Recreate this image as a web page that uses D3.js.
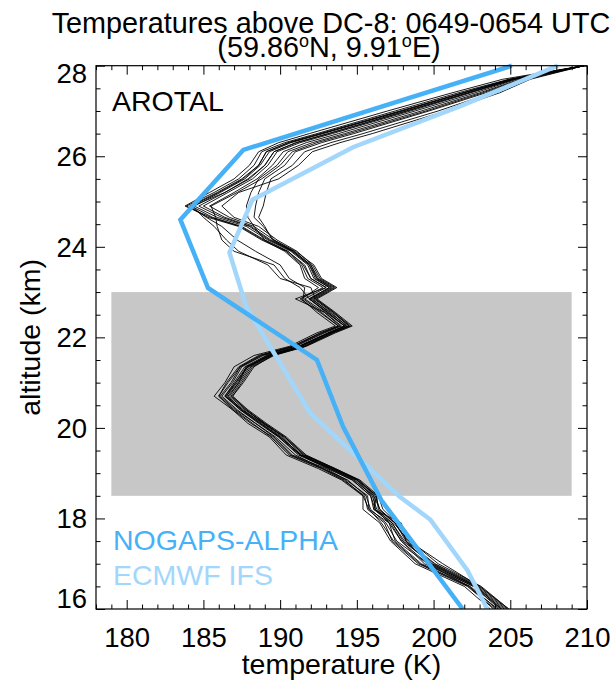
<!DOCTYPE html>
<html>
<head>
<meta charset="utf-8">
<script src="https://cdn.jsdelivr.net/npm/d3@7"></script>
<style>
  html, body { margin: 0; padding: 0; background: #fff; }
  svg { display: block; }
  text { font-family: "Liberation Sans", Arial, sans-serif; fill: #000; }
</style>
</head>
<body>
<svg id="chart" width="614" height="681"></svg>
<script>
// ---------------- DATA ----------------
const titleLine1 = "Temperatures above DC-8: 0649-0654 UTC";
const xLabel = "temperature (K)";
const yLabel = "altitude (km)";
const xTicksMajor = [180, 185, 190, 195, 200, 205, 210];
const yTicksMajor = [16, 18, 20, 22, 24, 26, 28];
const xDomain = [178, 210];
const yDomain = [16, 28];

// Shaded altitude band (K range and km range)
const bandTemp = [179, 209];
const bandAlt = [18.5, 23];

// AROTAL lidar profiles: temperatures at the common altitude levels
const arotalAlt = [16.0,16.5,17.0,17.5,17.9,18.2,18.5,18.85,19.1,19.4,19.8,20.1,20.4,20.7,21.0,21.35,21.6,21.8,22.1,22.25,22.55,22.85,23.1,23.3,23.6,23.9,24.15,24.45,24.65,24.9,25.2,25.5,25.8,26.1,26.3,26.5,27.0,27.4,27.7,28.0];
const arotalTemps = [
  [203.7,202.0,198.8,197.2,196.5,195.4,195.4,194.0,192.5,190.4,189.3,187.9,186.9,185.7,186.4,187.0,188.3,190.6,192.4,193.6,192.4,191.4,192.5,191.6,191.3,190.3,188.9,187.4,185.5,183.8,185.4,187.0,188.0,188.6,189.9,191.9,197.0,201.2,204.5,209.8],
  [204.0,202.2,199.0,197.3,196.8,195.7,195.5,194.1,192.7,190.6,189.4,188.2,187.0,186.0,186.5,187.3,188.6,190.8,192.6,193.8,192.6,191.3,192.8,191.8,191.4,190.4,188.8,187.3,185.3,183.9,185.7,187.3,188.3,188.8,190.3,192.4,197.5,201.6,204.9,209.8],
  [204.1,202.4,199.2,197.5,197.1,195.8,195.7,194.3,193.0,190.8,189.6,188.4,187.1,186.1,186.8,187.4,188.8,190.9,192.8,193.9,192.9,191.6,193.0,192.0,191.5,190.5,189.0,187.5,185.6,184.2,186.0,187.6,188.6,189.1,190.5,192.6,197.8,201.9,205.0,209.8],
  [204.3,202.6,199.6,197.9,197.2,196.1,195.9,194.7,193.2,191.2,189.9,188.6,187.4,186.4,187.0,187.7,189.1,191.2,193.1,194.2,193.1,191.9,193.2,192.2,191.8,190.7,189.2,187.8,185.9,184.4,186.1,187.7,188.7,189.3,190.7,192.8,198.0,202.0,205.1,209.8],
  [204.5,202.7,199.8,198.1,197.3,196.3,196.0,194.9,193.3,191.4,190.0,188.8,187.6,186.5,187.1,187.9,189.3,191.3,193.2,194.3,193.3,192.0,193.3,192.4,191.9,190.8,189.3,188.0,186.2,184.7,186.4,188.0,189.0,189.6,191.0,193.1,198.2,202.2,205.2,209.8],
  [204.7,202.9,200.0,198.3,197.5,196.5,196.2,195.1,193.5,191.5,190.2,189.0,187.7,186.7,187.3,188.0,189.4,191.5,193.4,194.5,193.4,192.2,193.5,192.5,192.0,190.9,189.4,188.1,186.4,185.0,186.6,188.2,189.2,189.8,191.3,193.4,198.5,202.4,205.3,209.8],
  [204.9,203.1,200.3,198.5,197.6,196.7,196.4,195.2,193.6,191.7,190.4,189.1,187.9,186.9,187.5,188.2,189.6,191.7,193.6,194.7,193.6,192.4,193.7,192.7,192.2,191.0,189.6,188.3,186.7,185.4,187.0,188.5,189.5,190.2,191.7,193.8,198.8,202.7,205.4,209.8],
  [204.2,202.3,199.6,197.6,196.9,195.9,195.6,194.4,192.8,191.0,189.7,188.4,187.2,186.2,186.9,187.5,188.9,191.0,192.9,194.0,192.9,191.0,193.0,192.0,191.6,190.5,189.0,188.3,187.9,187.8,188.1,188.6,189.8,190.5,192.1,194.2,199.2,203.0,205.6,209.8],
  [204.6,202.8,199.7,198.2,197.9,196.1,196.3,195.0,193.4,191.3,190.1,188.9,187.5,186.6,187.3,187.8,189.4,191.4,193.3,194.4,193.2,192.1,193.4,192.4,192.0,190.9,189.6,188.9,188.3,188.4,188.6,189.0,190.3,191.0,192.7,194.8,199.7,203.4,205.8,209.8],
  [204.4,202.6,199.4,197.9,197.1,196.2,195.9,194.7,193.1,191.3,189.9,188.7,187.4,186.5,187.2,187.9,189.2,191.2,193.2,194.2,193.0,191.9,193.2,192.3,191.9,190.8,189.5,189.0,188.6,188.9,189.1,189.4,190.8,191.6,193.3,195.4,200.3,203.8,206.1,209.8],
  [204.8,203.0,200.1,198.2,197.5,196.4,196.3,195.1,193.6,191.6,190.3,189.0,187.8,186.8,187.4,188.1,189.5,191.6,193.5,194.6,193.5,192.3,193.6,192.6,192.1,191.1,189.8,188.6,187.0,186.2,187.3,189.9,191.2,192.1,193.9,196.0,200.8,204.3,206.3,209.8],
  [204.9,203.0,200.6,198.4,197.4,196.5,196.1,195.0,193.5,191.6,190.3,188.9,187.8,186.9,187.6,188.3,189.5,191.6,193.4,194.5,193.5,192.3,192.0,190.0,189.2,187.3,186.5,185.7,185.0,184.3,186.4,187.9,189.0,189.6,191.1,193.2,198.3,202.3,205.2,209.8],
  [203.9,202.3,199.1,197.4,196.6,195.8,195.4,194.2,192.8,190.7,189.5,188.1,186.9,186.0,186.6,187.4,188.7,190.8,192.7,193.8,192.7,191.5,191.6,190.6,190.0,188.4,187.2,186.2,185.2,184.1,185.9,187.5,188.6,189.1,190.6,192.7,197.9,201.9,205.0,209.8],
  [204.4,202.8,199.9,198.0,197.3,196.2,196.1,194.8,193.3,191.4,190.0,188.7,187.5,186.4,187.1,187.8,189.2,191.3,193.2,194.2,193.1,191.9,191.3,190.3,189.6,187.0,186.2,185.9,185.8,185.5,187.2,188.8,190.0,190.8,192.4,194.5,199.5,203.2,205.7,209.8]
];

// Model profiles
const nogapsTemp = [201.9, 196.6, 194.1, 192.4, 185.3, 183.5, 187.6, 205.1];
const nogapsAlt  = [16.0, 18.4, 20.03, 21.5, 23.09, 24.6, 26.14, 28.0];
const ecmwfTemp  = [203.5, 202.2, 199.8, 197.8, 191.95, 187.8, 186.7, 188.2, 194.75, 201.7, 208.1];
const ecmwfAlt   = [16.0, 16.86, 17.97, 18.48, 20.33, 22.67, 23.87, 25.04, 26.2, 27.1, 28.0];

const legendNames = ["AROTAL", "NOGAPS-ALPHA", "ECMWF IFS"];

// ---------------- DRAW ----------------
const svg = d3.select("#chart");
const L = 96, R = 587, T = 65.7, B = 609;
const x = d3.scaleLinear().domain(xDomain).range([L, R]);
const y = d3.scaleLinear().domain(yDomain).range([B, T]);

const cNogaps = "#46b1f6";
const cEcmwf = "#a2d6fb";

// Title
svg.append("text").attr("x", 331).attr("y", 33).attr("text-anchor", "middle")
  .style("font-size", "28.8px").text(titleLine1);
const t2 = svg.append("text").attr("x", 329).attr("y", 57).attr("text-anchor", "middle")
  .style("font-size", "28.8px");
t2.append("tspan").text("(59.86");
t2.append("tspan").attr("dy", -10).style("font-size", "18px").text("o");
t2.append("tspan").attr("dy", 10).text("N, 9.91");
t2.append("tspan").attr("dy", -10).style("font-size", "18px").text("o");
t2.append("tspan").attr("dy", 10).text("E)");

// Gray band
svg.append("rect")
  .attr("x", x(bandTemp[0])).attr("y", y(bandAlt[1]))
  .attr("width", x(bandTemp[1]) - x(bandTemp[0]))
  .attr("height", y(bandAlt[0]) - y(bandAlt[1]))
  .attr("fill", "#c7c7c7");

// Clip
svg.append("clipPath").attr("id", "plotclip").append("rect")
  .attr("x", L).attr("y", T - 3).attr("width", R - L).attr("height", B - T + 3);

const plot = svg.append("g").attr("clip-path", "url(#plotclip)");
const line = d3.line().x(d => x(d[0])).y(d => y(d[1]));

// AROTAL profiles
arotalTemps.forEach(prof => {
  plot.append("path")
    .attr("d", line(prof.map((t, i) => [t, arotalAlt[i]])))
    .attr("fill", "none").attr("stroke", "#000").attr("stroke-width", 0.9)
    .attr("stroke-linejoin", "round");
});

// ECMWF
plot.append("path")
  .attr("d", line(ecmwfTemp.map((t, i) => [t, ecmwfAlt[i]])))
  .attr("fill", "none").attr("stroke", cEcmwf).attr("stroke-width", 4.5);
// NOGAPS
plot.append("path")
  .attr("d", line(nogapsTemp.map((t, i) => [t, nogapsAlt[i]])))
  .attr("fill", "none").attr("stroke", cNogaps).attr("stroke-width", 4.5);

// Axes
const xMinor = d3.range(xDomain[0], xDomain[1] + 0.001, 1).filter(v => !xTicksMajor.includes(v));
const yMinor = d3.range(yDomain[0], yDomain[1] + 0.001, 0.5).filter(v => !yTicksMajor.includes(v));

function styleAxis(g) {
  g.select(".domain").remove();
  g.selectAll("line").attr("stroke", "#000").attr("stroke-width", 1);
}
// bottom
svg.append("g").attr("transform", `translate(0,${B})`)
  .call(d3.axisBottom(x).tickValues(xTicksMajor).tickSize(-9).tickFormat(d3.format("d")).tickPadding(18))
  .call(styleAxis)
  .call(g => g.selectAll("text").style("font-size", "27.5px").style("font-family", "Liberation Sans, Arial, sans-serif").attr("fill", "#000"));
svg.append("g").attr("transform", `translate(0,${B})`)
  .call(d3.axisBottom(x).tickValues(xMinor).tickSize(-4.5).tickFormat(""))
  .call(styleAxis);
// top
svg.append("g").attr("transform", `translate(0,${T})`)
  .call(d3.axisTop(x).tickValues(xTicksMajor).tickSize(-9).tickFormat(""))
  .call(styleAxis);
svg.append("g").attr("transform", `translate(0,${T})`)
  .call(d3.axisTop(x).tickValues(xMinor).tickSize(-4.5).tickFormat(""))
  .call(styleAxis);
// left
svg.append("g").attr("transform", `translate(${L},0)`)
  .call(d3.axisLeft(y).tickValues(yTicksMajor).tickSize(-9).tickFormat(d3.format("d")).tickPadding(9))
  .call(styleAxis)
  .call(g => g.selectAll("text").style("font-size", "27.5px").style("font-family", "Liberation Sans, Arial, sans-serif").attr("fill", "#000")
    .attr("dy", d => d === yDomain[0] ? "-0.05em" : (d === yDomain[1] ? "0.6em" : "0.34em")));
svg.append("g").attr("transform", `translate(${L},0)`)
  .call(d3.axisLeft(y).tickValues(yMinor).tickSize(-4.5).tickFormat(""))
  .call(styleAxis);
// right
svg.append("g").attr("transform", `translate(${R},0)`)
  .call(d3.axisRight(y).tickValues(yTicksMajor).tickSize(-9).tickFormat(""))
  .call(styleAxis);
svg.append("g").attr("transform", `translate(${R},0)`)
  .call(d3.axisRight(y).tickValues(yMinor).tickSize(-4.5).tickFormat(""))
  .call(styleAxis);

// Frame
svg.append("rect").attr("x", L).attr("y", T).attr("width", R - L).attr("height", B - T)
  .attr("fill", "none").attr("stroke", "#000").attr("stroke-width", 1.2);

// Axis titles
svg.append("text").attr("x", (L + R) / 2).attr("y", 674).attr("text-anchor", "middle")
  .style("font-size", "28.5px").text(xLabel);
svg.append("text").attr("transform", `translate(40,${(T + B) / 2}) rotate(-90)`)
  .attr("text-anchor", "middle").style("font-size", "28.5px").text(yLabel);

// Legend labels
svg.append("text").attr("x", 112).attr("y", 111).style("font-size", "28.5px").text(legendNames[0]);
svg.append("text").attr("x", 113).attr("y", 550).style("font-size", "28.5px")
  .style("fill", cNogaps).text(legendNames[1]);
svg.append("text").attr("x", 113).attr("y", 585).style("font-size", "28.5px")
  .style("fill", cEcmwf).text(legendNames[2]);
</script>
</body>
</html>
